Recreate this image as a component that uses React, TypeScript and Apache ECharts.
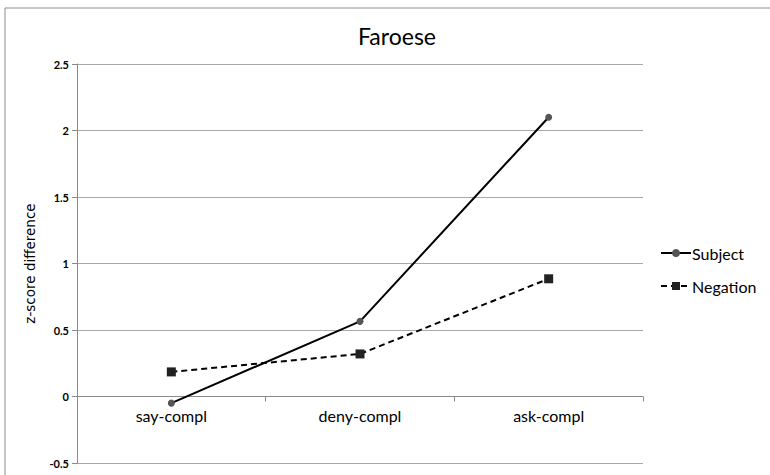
import React, { useEffect, useRef } from "react";
import * as echarts from "echarts";

const categories = ["say-compl", "deny-compl", "ask-compl"];
const subjectValues = [-0.05, 0.565, 2.1];
const negationValues = [0.185, 0.32, 0.885];
const yTicks = { min: -0.5, max: 2.5, interval: 0.5 };
const titleText = "Faroese";
const yAxisName = "z-score difference";

export default function App() {
  const ref = useRef<HTMLDivElement>(null);
  useEffect(() => {
    const chart = echarts.init(ref.current!, null, { renderer: "svg" });
    chart.setOption({
      animation: false,
      backgroundColor: "#ffffff",
      title: {
        text: titleText,
        left: 392,
        textAlign: "center",
        top: 19,
        textStyle: { fontFamily: "Lato", fontSize: 23, fontWeight: "normal", color: "#000" },
      },
      legend: {
        orient: "vertical",
        left: 655,
        top: 240,
        itemGap: 17,
        itemWidth: 30,
        itemHeight: 10,
        textStyle: { fontFamily: "Lato", fontSize: 16, color: "#000", padding: [0, 0, 0, -4] },
        data: ["Subject", "Negation"],
      },
      grid: { left: 77, right: 127, top: 64, bottom: 12, containLabel: false },
      xAxis: {
        type: "category",
        data: categories,
        boundaryGap: true,
        axisLine: { onZero: true, lineStyle: { color: "#8a8a8a", width: 1 } },
        axisTick: { show: true, length: 5, lineStyle: { color: "#8a8a8a" } },
        axisLabel: { show: false },
        splitLine: { show: false },
      },
      yAxis: {
        type: "value",
        min: yTicks.min,
        max: yTicks.max,
        interval: yTicks.interval,
        name: yAxisName,
        nameLocation: "middle",
        nameGap: 40,
        nameTextStyle: { fontFamily: "DejaVu Sans", fontSize: 13.5, color: "#000" },
        axisLine: { show: true, lineStyle: { color: "#8a8a8a", width: 1 } },
        axisTick: { show: true, length: 5, lineStyle: { color: "#8a8a8a" } },
        axisLabel: {
          fontFamily: "Lato",
          fontSize: 11,
          fontWeight: "bold",
          color: "#000",
          margin: 8,
          formatter: (v: number) => String(Math.round(v * 10) / 10),
        },
        splitLine: { show: true, lineStyle: { color: "#a8a8a8", width: 1 } },
      },
      series: [
        {
          name: "Subject",
          type: "line",
          data: subjectValues,
          symbol: "circle",
          symbolSize: 7,
          itemStyle: { color: "#555555" },
          lineStyle: { color: "#000", width: 2, type: "solid" },
        },
        {
          name: "Negation",
          type: "line",
          data: negationValues,
          symbol: "rect",
          symbolSize: 9,
          itemStyle: { color: "#222222" },
          lineStyle: { color: "#000", width: 2, type: [6, 4] },
        },
      ],
    });
    const labels = categories.map((c, i) => {
      const p = chart.convertToPixel({ xAxisIndex: 0, yAxisIndex: 0 }, [i, 0]) as number[];
      return {
        type: "text",
        x: p[0],
        y: p[1] + 11,
        silent: true,
        style: {
          text: c,
          fontFamily: "Lato",
          fontSize: 16,
          fill: "#000",
          align: "center",
          verticalAlign: "top",
        },
      };
    });
    chart.setOption({
      graphic: [
        {
          type: "rect",
          shape: { x: 5, y: 8, width: 800, height: 520 },
          style: { fill: "none", stroke: "#8c8c8c", lineWidth: 1 },
          silent: true,
        },
        ...labels,
      ],
    });
    return () => chart.dispose();
  }, []);
  return <div ref={ref} style={{ width: 770, height: 475, position: "absolute", left: 0, top: 0 }} />;
}
